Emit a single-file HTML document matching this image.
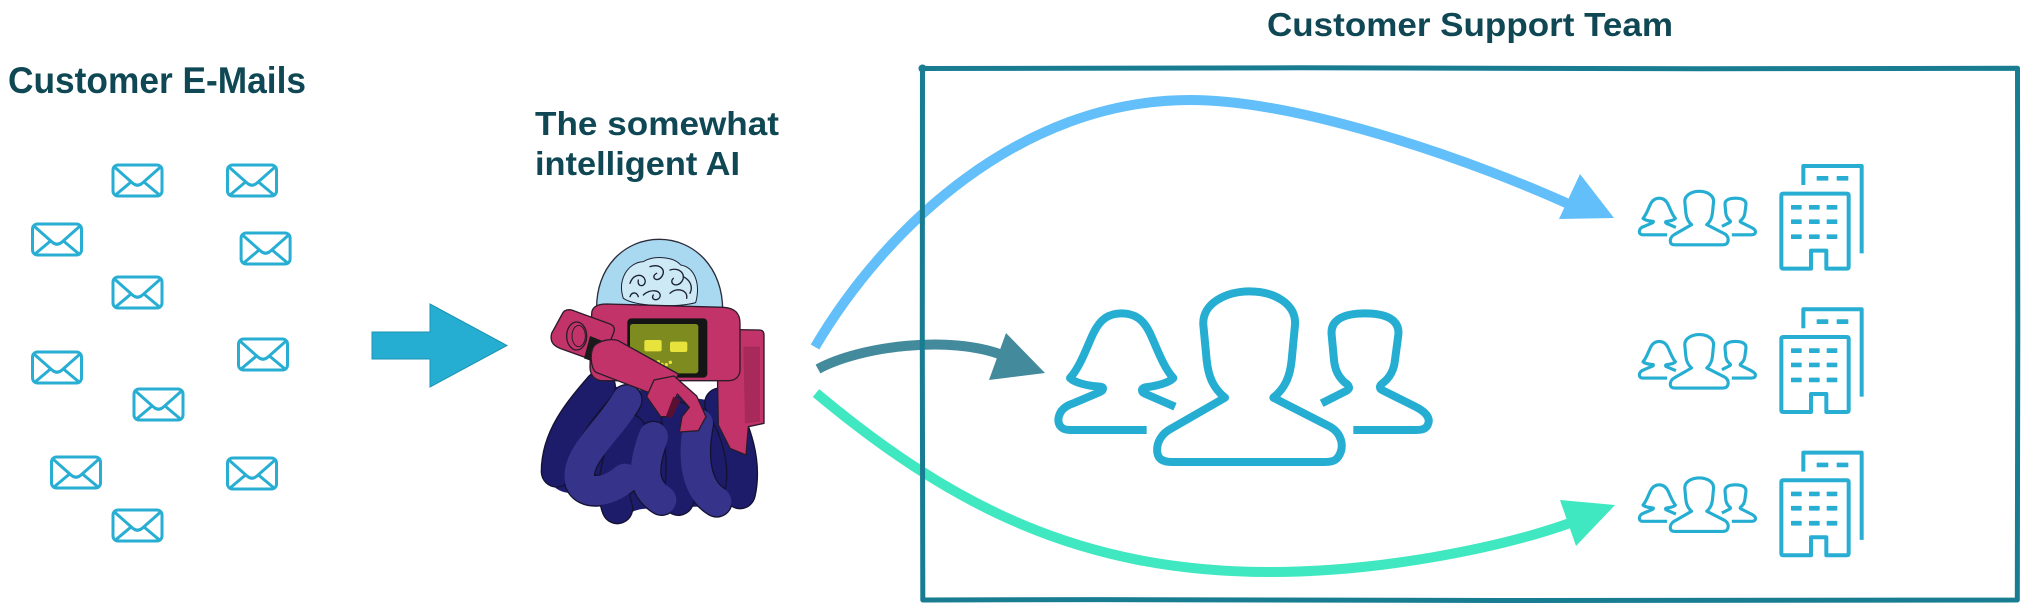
<!DOCTYPE html>
<html>
<head>
<meta charset="utf-8">
<style>
  html,body{margin:0;padding:0;background:#ffffff;}
  body{width:2022px;height:604px;overflow:hidden;}
  svg{display:block;}
  .t{font-family:"Liberation Sans",Arial,sans-serif;font-weight:bold;fill:#0f4854;}
</style>
</head>
<body>
<svg width="2022" height="604" viewBox="0 0 2022 604" xmlns="http://www.w3.org/2000/svg">
  <defs>
    <g id="env">
      <rect x="1.5" y="1.5" width="49" height="31" rx="5" ry="5" fill="none"/>
      <path d="M3.5 4 L21 19.5 Q26 24 31 19.5 L48.5 4" fill="none"/>
      <path d="M4 31.5 L19.5 18.5 M48 31.5 L32.5 18.5" fill="none"/>
    </g>
    <g id="people" fill="none" stroke-linejoin="round" stroke-linecap="butt">
      <path d="M555 383 C520 355 505 320 500 270 L490 165 C485 100 560 64 628 64 C700 64 770 100 765 165 L755 270 C750 320 735 355 700 383 L870 470 C905 490 915 530 895 560 C885 575 870 576 850 576 L395 576 C370 576 355 568 352 548 C348 518 365 490 395 475 Z"/>
      <path d="M320 480 L90 480 C62 480 52 462 56 442 C60 422 75 408 100 400 L180 366 C192 360 192 350 180 350 C140 348 102 337 90 324 C120 292 140 232 160 190 C180 148 205 130 245 130 C285 130 310 148 330 190 C350 232 370 292 400 324 C390 337 352 348 315 352 C303 355 303 366 315 371 L405 410"/>
      <path d="M845 400 L920 362 C932 355 927 345 915 338 C895 320 885 300 882 270 L875 195 C870 150 910 130 975 130 C1040 130 1080 150 1075 195 L1065 270 C1062 300 1050 322 1030 338 C1018 346 1015 356 1030 362 L1130 412 C1160 428 1170 445 1165 460 C1160 478 1145 480 1125 480 L940 480"/>
    </g>
    <g id="bldg">
      <path d="M550 105 L550 48 L725 48 L725 310" fill="none" stroke="#27aed2" stroke-width="12" stroke-linejoin="round"/>
      <rect x="590" y="78" width="35" height="14" rx="2" fill="#27aed2"/>
      <rect x="650" y="78" width="35" height="14" rx="2" fill="#27aed2"/>
      <path d="M573 356 L490 356 C486 356 484 354 484 350 L484 137 C484 133 486 131 490 131 L680 131 C684 131 686 133 686 137 L686 350 C686 354 684 356 680 356 L619 356 L619 302 L573 302 Z" fill="#ffffff" stroke="#27aed2" stroke-width="12" stroke-linejoin="round"/>
      <g fill="#27aed2">
        <rect x="513" y="165" width="32" height="14" rx="2"/>
        <rect x="567" y="165" width="32" height="14" rx="2"/>
        <rect x="620" y="165" width="32" height="14" rx="2"/>
        <rect x="513" y="208" width="32" height="14" rx="2"/>
        <rect x="567" y="208" width="32" height="14" rx="2"/>
        <rect x="620" y="208" width="32" height="14" rx="2"/>
        <rect x="513" y="253" width="32" height="14" rx="2"/>
        <rect x="567" y="253" width="32" height="14" rx="2"/>
        <rect x="620" y="253" width="32" height="14" rx="2"/>
      </g>
    </g>
  </defs>

  <!-- Titles -->
  <text class="t" x="8" y="93" font-size="37" textLength="298" lengthAdjust="spacingAndGlyphs">Customer E-Mails</text>
  <text class="t" x="535" y="135" font-size="33" textLength="244" lengthAdjust="spacingAndGlyphs">The somewhat</text>
  <text class="t" x="535" y="175" font-size="33" textLength="205" lengthAdjust="spacingAndGlyphs">intelligent AI</text>
  <text class="t" x="1267" y="36" font-size="33" textLength="406" lengthAdjust="spacingAndGlyphs">Customer Support Team</text>

  <!-- Envelopes -->
  <g stroke="#28aed3" stroke-width="3" stroke-linecap="round" stroke-linejoin="round" fill="none">
    <use href="#env" transform="translate(111.5,163.5)"/>
    <use href="#env" transform="translate(226,163.5)"/>
    <use href="#env" transform="translate(31,222.5)"/>
    <use href="#env" transform="translate(239.6,231.5)"/>
    <use href="#env" transform="translate(111.5,275.5)"/>
    <use href="#env" transform="translate(31,350.5)"/>
    <use href="#env" transform="translate(237,337.5)"/>
    <use href="#env" transform="translate(132.5,387.5)"/>
    <use href="#env" transform="translate(50,455.5)"/>
    <use href="#env" transform="translate(226,456.5)"/>
    <use href="#env" transform="translate(111.5,508.5)"/>
  </g>

  <!-- Big arrow -->
  <polygon points="372,332 430,332 430,304 507,345.5 430,387 430,359 372,359" fill="#25aed1" stroke="#1c93b3" stroke-width="1"/>

  <!-- Robot -->
  <g transform="translate(530,230) scale(0.33333)" stroke-linejoin="round" stroke-linecap="round">
    <!-- tentacle mass -->
    <path d="M190 460 C120 540 50 640 55 740 C70 800 150 800 200 770 C230 840 280 880 300 850 C330 830 360 840 400 830 C440 840 470 830 500 830 C560 845 610 840 650 800 C680 720 650 620 600 520 Z" fill="#1d1c6a"/>
    <g fill="none" stroke="#141233" stroke-width="96">
      <path d="M210 470 C150 540 80 620 80 725"/>
      <path d="M290 510 C240 600 130 680 150 755 C165 795 230 790 285 745"/>
      <path d="M300 600 C260 680 240 780 262 835"/>
      <path d="M370 620 C340 700 330 770 395 810"/>
      <path d="M440 560 C455 650 460 740 445 810"/>
      <path d="M505 580 C485 680 495 775 560 815"/>
      <path d="M570 520 C620 600 650 700 630 790"/>
    </g>
    <g fill="none" stroke-width="88">
      <path d="M210 470 C150 540 80 620 80 725" stroke="#1d1c6a"/>
      <path d="M300 600 C260 680 240 780 262 835" stroke="#1d1c6a"/>
      <path d="M290 510 C240 600 130 680 150 755 C165 795 230 790 285 745" stroke="#36338a"/>
      <path d="M440 560 C455 650 460 740 445 810" stroke="#1d1c6a"/>
      <path d="M570 520 C620 600 650 700 630 790" stroke="#1d1c6a"/>
      <path d="M370 620 C340 700 330 770 395 810" stroke="#36338a"/>
      <path d="M505 580 C485 680 495 775 560 815" stroke="#36338a"/>
    </g>
    <!-- backpack -->
    <path d="M560 298 L688 300 C698 300 702 306 702 316 L702 580 L655 590 L648 675 L600 655 L565 585 Z" fill="#c23369" stroke="#2b1b2b" stroke-width="4"/>
    <path d="M640 350 L690 350 L690 575 L645 580 Z" fill="#a82a5a"/>
    <!-- dome -->
    <path d="M200 245 C195 110 285 28 388 28 C490 28 580 110 578 245 Z" fill="#a9d9f0" stroke="#2b2b3b" stroke-width="4"/>
    <!-- brain -->
    <path d="M280 205 C262 150 292 98 340 95 C372 75 432 80 452 105 C495 112 512 162 497 218 C450 232 320 232 280 205 Z" fill="#cde9f6" stroke="#1b2233" stroke-width="3"/>
    <g fill="none" stroke="#1b2233" stroke-width="4">
      <path d="M300 160 C310 130 340 130 345 150 C350 170 320 175 325 150"/>
      <path d="M360 110 C390 100 410 120 395 140 C380 160 360 140 380 130"/>
      <path d="M420 120 C450 110 470 135 455 155 C440 175 415 160 430 145"/>
      <path d="M340 195 C360 175 395 180 390 200 C385 215 360 210 370 195"/>
      <path d="M420 190 C440 170 475 180 470 205"/>
      <path d="M300 200 C305 185 320 185 325 200"/>
      <path d="M460 140 C480 150 490 170 480 190"/>
    </g>
    <!-- body -->
    <path d="M185 252 C185 232 200 222 230 222 L580 232 C615 234 630 250 630 280 L630 420 C630 440 615 452 595 452 L220 452 C195 452 180 437 180 410 Z" fill="#c23369" stroke="#2b1b2b" stroke-width="4"/>
    <!-- screen -->
    <rect x="292" y="265" width="240" height="178" rx="12" fill="#151515"/>
    <rect x="300" y="282" width="205" height="148" rx="8" fill="#7d8b1f"/>
    <rect x="343" y="330" width="52" height="34" rx="6" fill="#e8e23c"/>
    <rect x="420" y="335" width="52" height="31" rx="6" fill="#e8e23c"/>
    <g fill="#e8e23c">
      <circle cx="385" cy="395" r="5"/>
      <circle cx="396" cy="403" r="5"/>
      <circle cx="409" cy="404" r="5"/>
      <circle cx="421" cy="397" r="5"/>
    </g>
    <!-- left arm -->
    <path d="M125 240 L240 282 C255 288 255 300 250 310 L215 400 L90 355 C65 345 60 330 65 310 L95 255 C100 242 110 237 125 240 Z" fill="#c23369" stroke="#2b1b2b" stroke-width="4"/>
    <ellipse cx="140" cy="318" rx="30" ry="42" fill="none" stroke="#2b1b2b" stroke-width="4"/>
    <ellipse cx="146" cy="318" rx="20" ry="32" fill="none" stroke="#2b1b2b" stroke-width="3"/>
    <path d="M180 318 L248 345 L226 408 L162 385 Z" fill="#1a1a1a"/>
    <!-- forearm -->
    <path d="M195 345 C215 330 245 325 265 332 L445 432 L410 508 L200 428 C180 418 178 360 195 345 Z" fill="#c23369" stroke="#2b1b2b" stroke-width="4"/>
    <!-- hand -->
    <path d="M372 450 L432 438 L500 498 L528 560 L505 602 L448 606 L456 560 L478 532 L442 492 L412 560 L392 560 L350 500 Z" fill="#c23369" stroke="#2b1b2b" stroke-width="4"/>
    <path d="M430 500 L452 510 L425 565 L408 558 Z" fill="#5a1030"/>
  </g>

  <!-- Arrows inside box -->
  <path d="M815 347 C885 228 1020 100 1190 100 C1300 100 1475 161 1575 207" fill="none" stroke="#62bffa" stroke-width="10" stroke-linecap="butt"/>
  <polygon points="1580,174 1559,219 1614,218" fill="#62bffa"/>

  <path d="M818 369 C860 346 950 335 1002 355" fill="none" stroke="#438a9c" stroke-width="10"/>
  <polygon points="1006,333 989,380 1045,373" fill="#438a9c"/>

  <path d="M816 393 C950 505 1080 572 1270 572 C1380 572 1500 548 1570 523" fill="none" stroke="#3fe8c0" stroke-width="10"/>
  <polygon points="1560,500 1576,546 1615,505" fill="#3fe8c0"/>

  <!-- Box -->
  <path d="M922.5 68.5 L1300 67.8 L1700 68.8 L2017.5 68.3 L2017.8 330 L2017.3 600 L1500 600.5 L1100 599.6 L922.8 600 L922.3 340 Z" fill="none" stroke="#197d92" stroke-width="5" stroke-linejoin="round"/>
  <circle cx="922.5" cy="68.5" r="4" fill="#197d92"/>

  <!-- Big people group -->
  <use href="#people" transform="translate(1040,270) scale(0.33333)" stroke="#25aed2" stroke-width="24"/>

  <!-- Small groups + buildings -->
  <use href="#people" transform="translate(1633.6,184.6) scale(0.1045)" stroke="#25aed2" stroke-width="30"/>
  <use href="#people" transform="translate(1633.6,327.9) scale(0.1045)" stroke="#25aed2" stroke-width="30"/>
  <use href="#people" transform="translate(1633.6,471.2) scale(0.1045)" stroke="#25aed2" stroke-width="30"/>

  <use href="#bldg" transform="translate(1620,150) scale(0.33333)"/>
  <use href="#bldg" transform="translate(1620,293.3) scale(0.33333)"/>
  <use href="#bldg" transform="translate(1620,436.6) scale(0.33333)"/>
</svg>
</body>
</html>
